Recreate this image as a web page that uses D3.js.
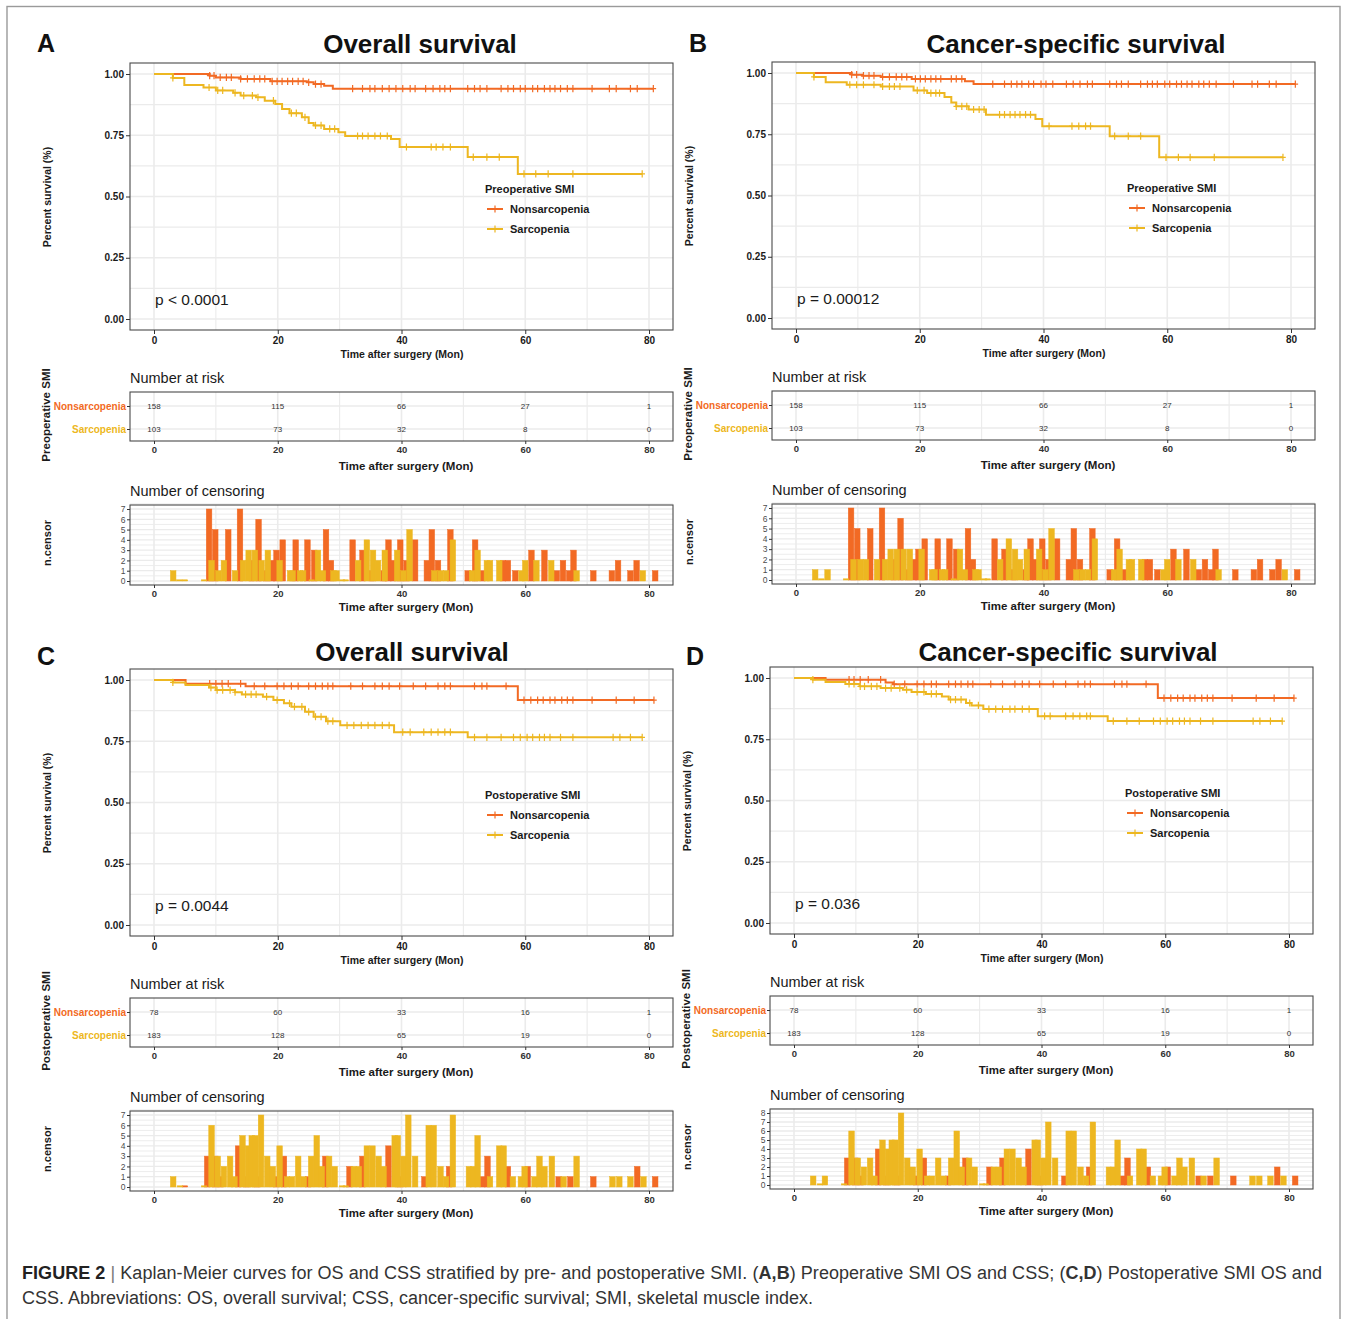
<!DOCTYPE html>
<html><head><meta charset="utf-8">
<script src="https://cdn.jsdelivr.net/npm/d3@7"></script>
<style>
body{margin:0;background:#fff;}
svg{display:block;font-family:"Liberation Sans",Arial,Helvetica,sans-serif;}
</style>
</head><body>
<svg id="c" width="1348" height="1319"></svg>
<script>
// ---------------- DATA ----------------
const groups = ["Nonsarcopenia", "Sarcopenia"];
const timeTicks = [0, 20, 40, 60, 80];
const survTicks = [0, 0.25, 0.5, 0.75, 1];

// Panel A: preoperative SMI, overall survival  [time (months), survival]
const stepsA_N = [[0,1],[9.0,0.993],[10.0,0.986],[14.0,0.980],[18.8,0.970],[24.7,0.966],[25.8,0.959],[27.5,0.952],[28.9,0.940]];
const stepsA_S = [[0,1],[3.05,0.984],[4.9,0.955],[8.0,0.945],[10.0,0.933],[12.8,0.923],[14.0,0.912],[16.5,0.905],[17.9,0.891],[19.6,0.878],[20.7,0.857],[21.9,0.840],[23.9,0.823],[25.0,0.800],[25.8,0.790],[27.5,0.776],[29.8,0.762],[30.9,0.747],[38.3,0.735],[39.7,0.702],[50.7,0.661],[58.8,0.592]];
const censA_N = [9.0,9.7,10.7,11.7,12.5,14.0,15.1,16.2,17.1,17.9,19.1,19.9,20.7,21.6,22.4,23.3,24.1,25.0,26.1,27.0,32.1,33.7,34.9,35.7,36.9,38.0,39.1,40.2,41.4,42.2,43.9,45.1,46.2,47.0,47.9,50.7,51.8,52.7,53.8,56.1,57.2,58.1,59.2,60.0,61.2,62.0,63.1,64.0,64.8,65.7,66.8,67.7,70.8,73.6,74.7,77.0,78.1,80.7];
const censA_S = [3.05,8.9,10.3,11.1,13.1,14.5,15.9,16.8,19.3,22.2,23.0,24.4,26.1,27.0,28.4,29.2,32.9,33.7,34.6,35.7,36.6,37.7,40.8,44.8,45.6,46.7,47.9,51.6,53.8,55.8,59.8,61.7,63.7,67.7,78.9];

// Panel B: preoperative SMI, cancer-specific survival
const stepsB_N = [[0,1],[9.0,0.993],[10.7,0.989],[13.7,0.984],[18.7,0.976],[27.3,0.966],[28.7,0.955]];
const stepsB_S = [[0,1],[2.9,0.984],[4.8,0.962],[8.2,0.952],[13.7,0.945],[19.0,0.929],[21.2,0.918],[24.0,0.902],[25.1,0.880],[25.9,0.864],[27.9,0.851],[30.7,0.830],[38.7,0.812],[39.8,0.783],[50.7,0.742],[58.7,0.656]];
const censB_N = [9.0,9.8,10.9,11.8,12.6,14.0,15.1,16.2,17.1,17.9,19.3,20.1,20.9,21.8,22.6,23.4,25.1,25.9,26.8,31.8,33.7,34.8,35.7,36.5,37.6,38.4,39.6,40.4,41.5,43.7,44.8,45.9,47.1,47.9,50.7,51.8,52.6,53.7,55.7,56.8,57.6,58.4,59.6,60.4,61.5,62.3,63.2,64.0,65.1,65.9,66.8,67.9,70.7,73.7,74.6,76.5,77.6,80.7];
const censB_S = [2.9,8.7,9.8,10.9,12.6,14.0,15.1,15.9,16.8,19.6,20.7,21.8,22.6,23.2,25.9,26.8,27.6,28.7,29.6,30.4,32.9,33.7,34.6,35.4,36.2,37.1,37.9,40.9,44.6,45.7,46.8,47.6,51.5,53.7,55.7,59.8,61.8,63.7,67.6,78.7];

// Panel C: postoperative SMI, overall survival
const stepsC_N = [[0,1],[5.1,0.985],[14.8,0.975],[58.8,0.918]];
const stepsC_S = [[0,1],[3.05,0.990],[5.1,0.980],[8.9,0.969],[10.0,0.959],[13.1,0.950],[14.2,0.941],[17.6,0.932],[19.3,0.918],[21.0,0.905],[22.2,0.891],[24.4,0.870],[25.8,0.850],[27.8,0.832],[30.1,0.815],[38.8,0.787],[50.7,0.766]];
const censC_N = [9.0,10.0,11.0,12.0,14.0,16.2,17.9,19.9,21.0,22.2,23.3,25.0,26.1,27.2,28.1,28.9,31.8,33.7,35.7,36.9,38.0,39.7,41.9,43.9,45.9,47.0,47.9,51.8,53.0,53.8,56.9,59.8,60.9,62.0,62.9,64.0,64.8,65.9,66.8,67.7,70.8,74.7,77.6,80.8];
const censC_S = [3.05,9.2,10.2,11.1,12.3,13.1,14.8,15.7,16.5,18.2,19.9,21.9,22.7,23.9,25.0,26.1,27.0,28.1,28.9,31.2,32.3,33.5,34.6,35.7,36.9,38.0,40.2,41.4,43.6,44.8,45.9,47.0,47.9,51.8,53.8,56.1,58.1,59.2,60.3,61.2,62.3,63.1,64.0,65.7,67.7,74.2,75.3,77.0,78.9];

// Panel D: postoperative SMI, cancer-specific survival
const stepsD_N = [[0,1],[5.1,0.993],[14.8,0.982],[16.0,0.975],[58.8,0.918]];
const stepsD_S = [[0,1],[3.05,0.993],[5.1,0.984],[8.3,0.976],[10.6,0.966],[14.0,0.959],[17.6,0.952],[19.0,0.943],[21.3,0.935],[23.9,0.925],[25.0,0.912],[27.8,0.898],[28.7,0.888],[30.6,0.873],[39.4,0.844],[50.7,0.824]];
const censD_N = [8.9,9.7,10.7,12.0,14.0,16.2,17.9,19.9,21.0,22.2,23.0,25.0,26.1,27.0,28.1,28.9,31.8,33.7,35.7,36.9,38.0,39.7,41.9,43.9,45.9,47.0,47.9,51.8,53.0,53.8,56.9,59.8,60.9,62.0,62.9,64.0,64.8,65.9,66.8,67.7,70.8,74.7,77.6,80.8];
const censD_S = [3.05,8.9,9.7,10.7,11.4,12.5,13.4,14.8,15.7,17.1,18.2,19.9,21.0,22.2,23.0,25.3,26.1,27.0,28.4,29.8,31.5,32.6,33.7,34.9,35.7,36.9,38.0,40.5,41.4,43.9,45.1,46.2,47.3,47.9,51.6,53.8,55.8,58.1,59.2,60.3,61.2,62.3,63.1,64.0,65.7,67.7,74.2,75.3,77.0,78.9];

// Number at risk at 0, 20, 40, 60, 80 months
const riskPre_N = [158, 115, 66, 27, 1];
const riskPre_S = [103, 73, 32, 8, 0];
const riskPost_N = [78, 60, 33, 16, 1];
const riskPost_S = [183, 128, 65, 19, 0];

// Number of censoring  [time (months), count]
const ncA_N = [[8.9,7],[9.9,5],[12.0,5],[13.9,7],[15.8,2],[16.9,6],[18.1,1],[19.1,2],[19.8,3],[20.8,4],[22.9,4],[24.8,4],[25.9,3],[27.8,5],[28.6,2],[32.1,4],[33.7,3],[35.2,1],[37.1,1],[37.9,4],[38.7,2],[39.8,4],[40.8,2],[42.2,4],[44.1,2],[44.9,5],[45.9,2],[47.9,5],[50.7,1],[51.9,4],[53.1,1],[56.4,2],[57.2,2],[58.4,1],[61.0,3],[63.1,3],[65.1,1],[66.1,2],[67.1,1],[67.8,3],[71.0,1],[74.0,1],[75.0,2],[77.0,1],[78.0,2],[81.0,1]];
const ncA_S = [[3.1,1],[4.1,0],[5.0,0],[8.1,0],[9.3,2],[10.4,1],[11.3,2],[13.1,1],[14.4,2],[15.3,3],[16.3,3],[17.4,2],[18.4,3],[20.3,2],[22.0,1],[22.4,1],[23.6,1],[24.1,1],[25.5,0],[26.5,3],[27.3,1],[29.0,1],[29.5,1],[30.4,0],[31.0,0],[33.0,2],[34.4,4],[35.4,3],[36.2,2],[37.3,3],[39.3,3],[40.3,1],[41.3,5],[45.3,1],[46.3,1],[47.2,1],[48.3,4],[51.4,1],[52.3,3],[53.8,2],[54.3,2],[55.8,2],[59.4,1],[60.0,2],[61.8,2],[64.2,2],[68.3,1],[79.0,1]];
const ncB_N = [[8.9,7],[9.9,5],[12.0,5],[13.9,7],[15.8,2],[16.9,6],[18.1,1],[19.1,2],[19.8,3],[20.8,4],[22.9,4],[24.8,4],[25.9,3],[27.8,5],[28.6,2],[32.1,4],[33.7,3],[35.2,1],[37.1,1],[37.9,4],[38.7,2],[39.8,4],[40.8,2],[42.2,4],[44.1,2],[44.9,5],[45.9,2],[47.9,5],[50.7,1],[51.9,4],[53.1,1],[56.4,2],[57.2,2],[58.4,1],[61.0,3],[63.1,3],[65.1,1],[66.1,2],[67.1,1],[67.8,3],[71.0,1],[74.0,1],[75.0,2],[77.0,1],[78.0,2],[81.0,1]];
const ncB_S = [[3.1,1],[4.1,0],[5.1,1],[8.1,0],[9.3,2],[10.4,2],[11.3,2],[13.1,2],[14.4,2],[15.3,3],[16.3,3],[17.4,3],[18.4,3],[20.3,3],[22.0,1],[22.4,1],[23.6,1],[24.1,1],[25.5,0],[26.5,3],[27.3,1],[29.0,1],[29.5,1],[30.4,0],[31.0,0],[33.0,2],[34.4,4],[35.4,3],[36.2,2],[37.3,3],[39.3,3],[40.3,1],[41.3,5],[45.3,1],[46.3,1],[47.2,1],[48.3,4],[51.4,1],[52.3,3],[53.8,2],[54.3,2],[55.8,2],[59.4,1],[60.0,2],[61.8,2],[64.2,2],[68.3,1],[79.0,1]];
const ncC_N = [[5.0,0],[8.6,3],[9.9,3],[10.8,1],[13.6,4],[14.9,1],[16.7,1],[19.8,1],[21.0,3],[24.9,1],[27.7,3],[31.6,2],[33.7,3],[37.9,4],[39.8,1],[43.7,1],[47.7,2],[53.1,1],[53.9,3],[57.2,2],[60.4,2],[65.4,1],[67.3,1],[71.0,1],[78.1,2],[81.0,1]];
const ncC_S = [[3.1,1],[4.2,0],[8.1,0],[9.3,6],[10.3,3],[11.3,2],[12.3,3],[13.0,1],[14.3,5],[15.2,4],[15.8,5],[16.4,5],[17.3,7],[18.3,3],[19.2,2],[20.3,4],[21.5,1],[22.3,1],[23.3,3],[24.2,1],[25.4,3],[26.3,5],[27.1,2],[28.3,3],[29.2,2],[30.4,0],[31.0,0],[32.3,2],[33.1,2],[34.4,4],[35.3,4],[36.3,3],[37.1,2],[38.9,5],[39.4,5],[40.3,3],[41.1,7],[42.2,3],[44.4,6],[45.2,6],[46.3,2],[47.2,1],[48.3,7],[50.9,2],[51.6,2],[52.3,5],[54.3,1],[55.8,4],[56.5,4],[58.0,1],[59.3,1],[59.9,2],[61.5,1],[62.3,3],[63.1,2],[64.3,3],[66.2,1],[68.3,3],[74.1,1],[75.2,1],[77.0,1],[79.1,1]];
const ncD_N = [[8.6,3],[9.9,3],[10.8,1],[13.6,4],[14.9,1],[16.7,1],[19.8,1],[21.0,3],[24.9,1],[27.7,3],[31.6,2],[33.7,3],[37.9,4],[39.8,1],[43.7,1],[47.7,2],[53.1,1],[53.9,3],[57.2,2],[60.4,2],[65.4,1],[67.3,1],[71.0,1],[78.1,2],[81.0,1]];
const ncD_S = [[3.1,1],[4.2,0],[5.0,1],[8.1,0],[9.3,6],[10.3,3],[11.3,2],[12.3,3],[13.0,1],[14.3,5],[15.2,4],[15.8,5],[16.4,5],[17.3,8],[18.3,3],[19.2,2],[20.3,4],[21.5,1],[22.3,1],[23.3,3],[24.2,1],[25.4,3],[26.3,6],[27.1,2],[28.3,3],[29.2,2],[30.4,0],[31.0,0],[32.3,2],[33.1,2],[34.4,4],[35.3,4],[36.3,3],[37.1,2],[38.9,5],[39.4,5],[40.3,3],[41.1,7],[42.2,3],[44.4,6],[45.2,6],[46.3,2],[47.2,1],[48.3,7],[50.9,2],[51.6,2],[52.3,5],[54.3,1],[55.8,4],[56.5,4],[58.0,1],[59.3,1],[59.9,2],[61.5,1],[62.3,3],[63.1,2],[64.3,3],[66.2,1],[68.3,3],[74.1,1],[75.2,1],[77.0,1],[79.1,1]];

const colors = {Nonsarcopenia: "#F26A24", Sarcopenia: "#EDB721"};

const panels = [
  {label:"A", labelPos:[37,52], title:"Overall survival", titlePos:[420,53], dx:0, dy:0,
   smi:"Preoperative SMI", p:"p < 0.0001",
   steps:{Nonsarcopenia:stepsA_N, Sarcopenia:stepsA_S}, cens:{Nonsarcopenia:censA_N, Sarcopenia:censA_S},
   risk:{Nonsarcopenia:riskPre_N, Sarcopenia:riskPre_S}, nc:{Nonsarcopenia:ncA_N, Sarcopenia:ncA_S}, ncMax:7},
  {label:"B", labelPos:[689,52], title:"Cancer-specific survival", titlePos:[1076,53], dx:642, dy:-1,
   smi:"Preoperative SMI", p:"p = 0.00012",
   steps:{Nonsarcopenia:stepsB_N, Sarcopenia:stepsB_S}, cens:{Nonsarcopenia:censB_N, Sarcopenia:censB_S},
   risk:{Nonsarcopenia:riskPre_N, Sarcopenia:riskPre_S}, nc:{Nonsarcopenia:ncB_N, Sarcopenia:ncB_S}, ncMax:7},
  {label:"C", labelPos:[37,665], title:"Overall survival", titlePos:[412,661], dx:0, dy:606,
   smi:"Postoperative SMI", p:"p = 0.0044",
   steps:{Nonsarcopenia:stepsC_N, Sarcopenia:stepsC_S}, cens:{Nonsarcopenia:censC_N, Sarcopenia:censC_S},
   risk:{Nonsarcopenia:riskPost_N, Sarcopenia:riskPost_S}, nc:{Nonsarcopenia:ncC_N, Sarcopenia:ncC_S}, ncMax:7},
  {label:"D", labelPos:[686,665], title:"Cancer-specific survival", titlePos:[1068,661], dx:640, dy:604,
   smi:"Postoperative SMI", p:"p = 0.036",
   steps:{Nonsarcopenia:stepsD_N, Sarcopenia:stepsD_S}, cens:{Nonsarcopenia:censD_N, Sarcopenia:censD_S},
   risk:{Nonsarcopenia:riskPost_N, Sarcopenia:riskPost_S}, nc:{Nonsarcopenia:ncD_N, Sarcopenia:ncD_S}, ncMax:8}
];

// ---------------- DRAWING ----------------
const svg = d3.select("#c");
svg.append("rect").attr("x",7).attr("y",6.5).attr("width",1333).attr("height",1400)
  .attr("fill","none").attr("stroke","#9a9a9a").attr("stroke-width",1.4);

const GRID = "#ebebeb", BORDER = "#4a4a4a", TXT = "#1a1a1a";

function survAt(steps, t){ let v = 1; steps.forEach(([tt, s]) => { if (tt <= t) v = s; }); return v; }
function plusPath(cx, cy, h, w){ return `M${cx},${cy-h}V${cy+h}M${cx-w},${cy}H${cx+w}`; }

function styleAxis(sel, size, weight, color){
  sel.select(".domain").remove();
  sel.selectAll(".tick line").attr("stroke","#333").attr("stroke-width",1);
  sel.selectAll(".tick text").attr("font-size",size).attr("font-weight",weight).attr("fill",color)
     .attr("font-family",'"Liberation Sans",Arial,sans-serif');
}

function vTitle(g, x, y, txt, size){
  g.append("text").attr("transform",`translate(${x},${y}) rotate(-90)`).attr("text-anchor","middle")
   .attr("dominant-baseline","central").attr("font-size",size).attr("font-weight","bold").attr("fill",TXT).text(txt);
}

function drawPanel(cfg){
  svg.append("text").attr("x",cfg.labelPos[0]).attr("y",cfg.labelPos[1]).attr("font-size",25)
    .attr("font-weight","bold").attr("fill","#111").text(cfg.label);
  svg.append("text").attr("x",cfg.titlePos[0]).attr("y",cfg.titlePos[1]).attr("text-anchor","middle")
    .attr("font-size",26).attr("font-weight","bold").attr("fill","#111").text(cfg.title);

  const g = svg.append("g").attr("transform",`translate(${cfg.dx},${cfg.dy})`);
  const L = 130, R = 673;
  const x = d3.scaleLinear().domain([0,80]).range([154,649]);
  const gridMonths = d3.range(0,81,10);

  // ---- survival plot ----
  const T = 63, B = 330;
  const y = d3.scaleLinear().domain([0,1]).range([319,74]);
  g.append("rect").attr("x",L).attr("y",T).attr("width",R-L).attr("height",B-T).attr("fill","#fff");
  g.selectAll(null).data(gridMonths).join("line")
    .attr("x1",d=>x(d)).attr("x2",d=>x(d)).attr("y1",T).attr("y2",B)
    .attr("stroke",GRID).attr("stroke-width",d=>d%20===0?1.6:1.1);
  g.selectAll(null).data(d3.range(0,1.0001,0.125)).join("line")
    .attr("x1",L).attr("x2",R).attr("y1",d=>y(d)).attr("y2",d=>y(d))
    .attr("stroke",GRID).attr("stroke-width",(d,i)=>i%2===0?1.6:1.1);

  const line = d3.line().x(d=>x(d[0])).y(d=>y(d[1])).curve(d3.curveStepAfter);
  groups.forEach(gr => {
    const steps = cfg.steps[gr], cens = cfg.cens[gr];
    const end = d3.max(cens);
    const pts = steps.concat([[end, steps[steps.length-1][1]]]);
    g.append("path").attr("d",line(pts)).attr("fill","none").attr("stroke",colors[gr]).attr("stroke-width",2);
    g.append("path").attr("d",cens.map(t=>plusPath(x(t), y(survAt(steps,t)), 3.6, 2.8)).join(""))
      .attr("fill","none").attr("stroke",colors[gr]).attr("stroke-width",1.2);
  });
  g.append("rect").attr("x",L).attr("y",T).attr("width",R-L).attr("height",B-T)
    .attr("fill","none").attr("stroke",BORDER).attr("stroke-width",1.1);

  g.append("g").attr("transform",`translate(${L},0)`)
    .call(d3.axisLeft(y).tickValues(survTicks).tickFormat(d3.format(".2f")).tickSize(4).tickPadding(2))
    .call(s=>styleAxis(s,10,"bold",TXT));
  g.append("g").attr("transform",`translate(0,${B})`)
    .call(d3.axisBottom(x).tickValues(timeTicks).tickSize(4).tickPadding(2.5))
    .call(s=>styleAxis(s,10,"bold",TXT));
  g.append("text").attr("x",402).attr("y",358).attr("text-anchor","middle").attr("font-size",10.5)
    .attr("font-weight","bold").attr("fill",TXT).text("Time after surgery (Mon)");
  vTitle(g, 47, 197, "Percent survival (%)", 10.5);

  g.append("text").attr("x",x(0)+1).attr("y",304.5).attr("font-size",15.5).attr("fill",TXT).text(cfg.p);

  // legend
  const lg = g.append("g");
  lg.append("text").attr("x",485).attr("y",193).attr("font-size",11).attr("font-weight","bold").attr("fill",TXT).text(cfg.smi);
  groups.forEach((gr,i) => {
    const ly = 209 + i*20;
    lg.append("line").attr("x1",487).attr("x2",503).attr("y1",ly).attr("y2",ly).attr("stroke",colors[gr]).attr("stroke-width",2);
    lg.append("path").attr("d",plusPath(495,ly,3.6,2.8)).attr("stroke",colors[gr]).attr("stroke-width",1.2).attr("fill","none");
    lg.append("text").attr("x",510).attr("y",ly+4).attr("font-size",11).attr("font-weight","bold").attr("fill",TXT).text(gr);
  });

  // ---- risk table ----
  const RT = 392, RB = 441;
  const ry = d3.scalePoint().domain(groups).range([406,429]);
  g.append("text").attr("x",L).attr("y",383).attr("font-size",14.5).attr("fill",TXT).text("Number at risk");
  g.selectAll(null).data(gridMonths).join("line")
    .attr("x1",d=>x(d)).attr("x2",d=>x(d)).attr("y1",RT).attr("y2",RB)
    .attr("stroke",GRID).attr("stroke-width",d=>d%20===0?1.6:1.1);
  g.selectAll(null).data(groups).join("line")
    .attr("x1",L).attr("x2",R).attr("y1",d=>ry(d)).attr("y2",d=>ry(d)).attr("stroke",GRID).attr("stroke-width",1.4);
  groups.forEach(gr => {
    g.selectAll(null).data(cfg.risk[gr]).join("text")
      .attr("x",(d,i)=>x(timeTicks[i])).attr("y",ry(gr)+3).attr("text-anchor","middle")
      .attr("font-size",8).attr("fill","#333").text(d=>d);
  });
  g.append("rect").attr("x",L).attr("y",RT).attr("width",R-L).attr("height",RB-RT)
    .attr("fill","none").attr("stroke",BORDER).attr("stroke-width",1.1);
  const ryAxis = g.append("g").attr("transform",`translate(${L},0)`)
    .call(d3.axisLeft(ry).tickSize(3).tickPadding(1));
  styleAxis(ryAxis,10,"bold",TXT);
  ryAxis.selectAll(".tick text").attr("fill",d=>colors[d]);
  g.append("g").attr("transform",`translate(0,${RB})`)
    .call(d3.axisBottom(x).tickValues(timeTicks).tickSize(3).tickPadding(2.5))
    .call(s=>styleAxis(s,9.5,"bold","#333"));
  g.append("text").attr("x",406).attr("y",470).attr("text-anchor","middle").attr("font-size",11.5)
    .attr("font-weight","bold").attr("fill",TXT).text("Time after surgery (Mon)");
  vTitle(g, 46, 415, cfg.smi, 11.5);

  // ---- censoring plot ----
  const CT = 505, CB = 585;
  const cy = d3.scaleLinear().domain([0,cfg.ncMax]).range([581,509]);
  g.append("text").attr("x",L).attr("y",496).attr("font-size",14.5).attr("fill",TXT).text("Number of censoring");
  g.append("rect").attr("x",L).attr("y",CT).attr("width",R-L).attr("height",CB-CT).attr("fill","#fff");
  g.selectAll(null).data(d3.range(0,cfg.ncMax+0.51,0.5)).join("line")
    .attr("x1",L).attr("x2",R).attr("y1",d=>cy(d)).attr("y2",d=>cy(d))
    .attr("stroke",GRID).attr("stroke-width",d=>Number.isInteger(d)?1.3:0.9);
  g.selectAll(null).data(gridMonths).join("line")
    .attr("x1",d=>x(d)).attr("x2",d=>x(d)).attr("y1",CT).attr("y2",CB)
    .attr("stroke",GRID).attr("stroke-width",d=>d%20===0?1.6:1.1);
  groups.forEach(gr => {
    g.selectAll(null).data(cfg.nc[gr]).join("rect")
      .attr("x",d=>x(d[0]-0.45)).attr("width",d=>x(d[0]+0.45)-x(d[0]-0.45))
      .attr("y",d=>Math.min(cy(d[1]), cy(0)-1.2)).attr("height",d=>Math.max(cy(0)-cy(d[1]),1.2))
      .attr("fill",colors[gr]).attr("stroke",colors[gr]).attr("stroke-width",0.5);
  });
  g.append("rect").attr("x",L).attr("y",CT).attr("width",R-L).attr("height",CB-CT)
    .attr("fill","none").attr("stroke",BORDER).attr("stroke-width",1.1);
  g.append("g").attr("transform",`translate(${L},0)`)
    .call(d3.axisLeft(cy).tickValues(d3.range(0,cfg.ncMax+1)).tickFormat(d3.format("d")).tickSize(3).tickPadding(1.5))
    .call(s=>styleAxis(s,8.5,"normal","#4d4d4d"));
  g.append("g").attr("transform",`translate(0,${CB})`)
    .call(d3.axisBottom(x).tickValues(timeTicks).tickSize(3).tickPadding(2))
    .call(s=>styleAxis(s,9.5,"bold","#333"));
  g.append("text").attr("x",406).attr("y",611).attr("text-anchor","middle").attr("font-size",11.5)
    .attr("font-weight","bold").attr("fill",TXT).text("Time after surgery (Mon)");
  vTitle(g, 47, 543, "n.censor", 11);
}

panels.forEach(drawPanel);

// ---------------- CAPTION ----------------
const cap1 = svg.append("text").attr("x",22).attr("y",1279).attr("font-size",18).attr("fill","#333")
  .attr("textLength",1300).attr("lengthAdjust","spacing");
cap1.append("tspan").attr("font-weight","bold").attr("fill","#222").text("FIGURE 2");
cap1.append("tspan").attr("fill","#777").text(" | ");
cap1.append("tspan").text("Kaplan-Meier curves for OS and CSS stratified by pre- and postoperative SMI. (");
cap1.append("tspan").attr("font-weight","bold").text("A,B");
cap1.append("tspan").text(") Preoperative SMI OS and CSS; (");
cap1.append("tspan").attr("font-weight","bold").text("C,D");
cap1.append("tspan").text(") Postoperative SMI OS and");
svg.append("text").attr("x",22).attr("y",1304).attr("font-size",18).attr("fill","#333")
  .attr("textLength",791).attr("lengthAdjust","spacing")
  .text("CSS. Abbreviations: OS, overall survival; CSS, cancer-specific survival; SMI, skeletal muscle index.");
</script>
</body></html>
